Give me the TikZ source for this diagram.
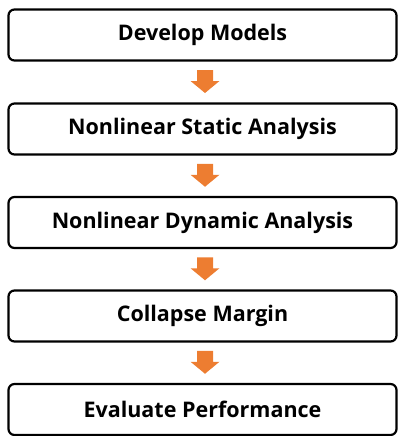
\documentclass[tikz,border=0pt]{standalone}
\usepackage{fontspec}
\setmainfont{Open Sans}
\usetikzlibrary{calc}
\definecolor{arroworange}{RGB}{237,125,49}
\begin{document}
\begin{tikzpicture}[x=1pt,y=-1pt,
  stepbox/.style={draw=black,line width=2.2pt,rounded corners=6pt,minimum width=388pt,minimum height=51pt,inner sep=0pt,font=\fontsize{21.5}{25}\selectfont\bfseries},
  flowarrow/.style={fill=arroworange,draw=none}]
\useasboundingbox (0,0) rectangle (398,436);
\node[stepbox] (b1) at (202.5,35) {Develop Models};
\node[stepbox] (b2) at (202.5,129) {Nonlinear Static Analysis};
\node[stepbox] (b3) at (202.5,222.5) {Nonlinear Dynamic Analysis};
\node[stepbox] (b4) at (202.5,316) {Collapse Margin};
\node[stepbox] (b5) at (202.5,409.5) {Evaluate Performance};
\foreach \a/\b in {b1/b2,b2/b3,b3/b4,b4/b5}{
  \path ($(\a.south)!0.5!(\b.north)$) coordinate (m);
  \fill[flowarrow] ($(m)+(-5.5,-12)$) -- ++(16,0) -- ++(0,11) -- ++(6.5,0) -- ++(-14.5,12) -- ++(-14.5,-12) -- ++(6.5,0) -- cycle;
}
\end{tikzpicture}
\end{document}
